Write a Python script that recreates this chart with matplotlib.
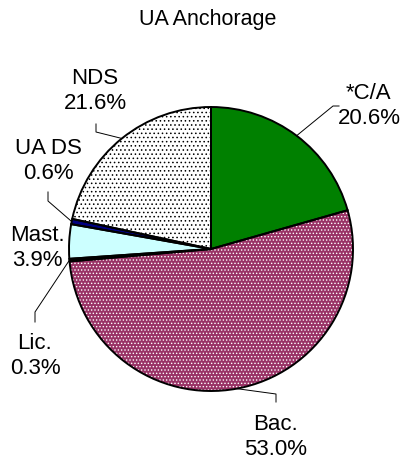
import numpy as np
import matplotlib
matplotlib.use("Agg")
import matplotlib.pyplot as plt

# ---- data ----
categories = ["*C/A", "Bac.", "Lic.", "Mast.", "UA DS", "NDS"]
values = [20.6, 53.0, 0.3, 3.9, 0.6, 21.6]
title = "UA Anchorage"

# ---- styles ----
face_colors = ["#008000", "#993366", "#000000", "#CCFFFF", "#000080", "#FFFFFF"]
hatches = [None, ".....", None, None, None, "...."]
hatch_colors = ["#008000", "#FFFFFF", "#000000", "#CCFFFF", "#000080", "#000000"]

W, H = 402, 464
plt.rcParams["font.family"] = ["Liberation Sans", "DejaVu Sans"]
plt.rcParams["hatch.linewidth"] = 0.6

fig = plt.figure(figsize=(W / 100, H / 100), dpi=100)
ax = fig.add_axes([0, 0, 1, 1])
ax.set_xlim(0, W)
ax.set_ylim(0, H)
ax.set_aspect("equal")
ax.axis("off")

cx, cy, r = 211, H - 250, 142

# fill + hatch layer
wedges, _ = ax.pie(values, startangle=90, counterclock=False, center=(cx, cy),
                   radius=r, colors=face_colors, frame=True,
                   wedgeprops=dict(linewidth=0))
for w, h, hc in zip(wedges, hatches, hatch_colors):
    w.set_edgecolor(hc)
    if h:
        w.set_hatch(h)
# outline layer
outl, _ = ax.pie(values, startangle=90, counterclock=False, center=(cx, cy),
                 radius=r, frame=True,
                 wedgeprops=dict(fill=False, edgecolor="black", linewidth=1.4))
ax.set_xlim(0, W)
ax.set_ylim(0, H)
ax.axis("off")

# label layout (pixel coords, y from top): text center, leader points (elbow, end)
layout = {
    "*C/A": dict(text=(369, 106), leader=[(333, 107), (339, 107)]),
    "Bac.": dict(text=(276, 437), leader=[(276, 395), (276, 403)]),
    "Lic.": dict(text=(35, 356), leader=[(35, 313), (35, 323)]),
    "Mast.": dict(text=(37, 248), leader=None),
    "UA DS": dict(text=(48, 161), leader=[(48, 202), (48, 193)]),
    "NDS": dict(text=(95, 91), leader=[(96, 133), (96, 125)]),
}

for w, cat, val in zip(wedges, categories, values):
    lay = layout[cat]
    tx, ty = lay["text"]
    ax.text(tx, H - ty, f"{cat}\n{val:.1f}%", ha="center", va="center",
            fontsize=16, linespacing=1.3, color="black")
    if lay["leader"]:
        ang = np.deg2rad((w.theta1 + w.theta2) / 2)
        ax_, ay_ = cx + r * np.cos(ang), cy + r * np.sin(ang)
        xs = [ax_] + [p[0] for p in lay["leader"]]
        ys = [ay_] + [H - p[1] for p in lay["leader"]]
        ax.plot(xs, ys, color="black", linewidth=0.7)

fig.text(208 / W, 1 - 20 / H, title, ha="center", va="center", fontsize=15.5)

fig.savefig("out.png", dpi=100)
